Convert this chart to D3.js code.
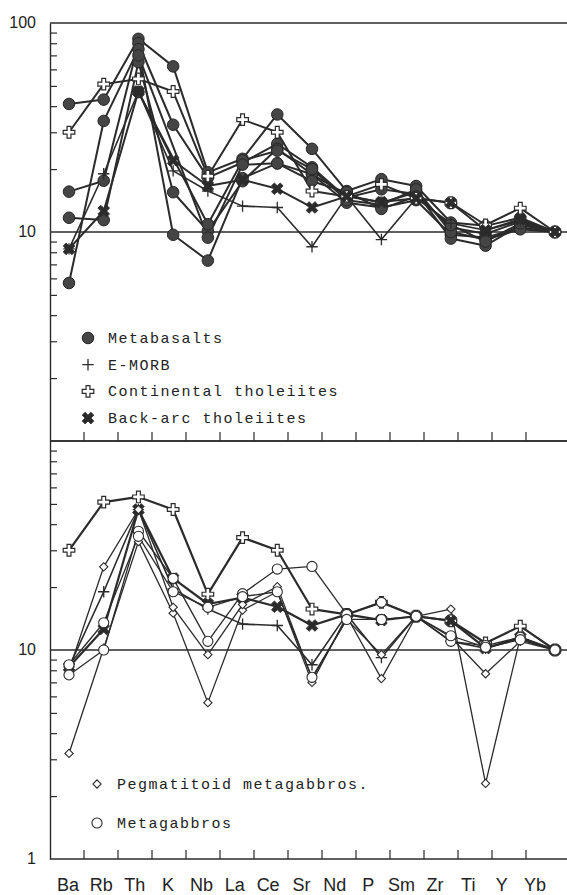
<!DOCTYPE html>
<html>
<head>
<meta charset="utf-8">
<script src="https://cdn.jsdelivr.net/npm/d3@7"></script>
<style>
  body { margin: 0; background: #fff; }
  svg { display: block; }
</style>
</head>
<body>
<div class="chart"></div>
<script>
const width = 567, height = 895;

// element order (spider diagram, normalised to Yb = 10)
const elements = ["Ba","Rb","Th","K","Nb","La","Ce","Sr","Nd","P","Sm","Zr","Ti","Y","Yb"];

// top panel samples (null = not plotted)
const metabasalts = [
  [41, 43, 84, 62, 19.3, 22.4, 36.5, 25, 15.7, 17.9, 16.6, 11.1, 10.7, 11.7, 10],
  [15.6, 17.6, 80, 32.6, 18.2, 21.5, 26.4, 20.4, 14.6, 16, 15.2, 10.5, 9.8, 11.2, 10],
  [11.7, 11.4, 65, 15.5, 10.1, 17.5, 25, 18.9, 13.8, 13.1, 14.2, 9.7, 9.4, 10.5, 10],
  [5.7, 34, 75, 9.7, 7.3, 18.1, 21.3, 18.9, 15, 13.8, 15.5, 9.3, 8.6, 10.8, 10],
  [null, null, 46.7, null, 10.9, 22, 24.5, 20, 14.2, 13.5, 16, 10, 9.2, 10.3, 10],
  [null, null, 70, null, 9.4, 21, 21.3, 17.5, 15.5, 12.9, 14.8, 10.8, 9, 11, 10]
];

// reference compositions (both panels)
const eMorb          = [8.3, 19, 47, 19.6, 15.7, 13.3, 13.1, 8.5, 14.8, 9.2, 14.5, 11, 10.2, 11.3, 10];
const contTholeiites = [30, 51, 54, 47, 18.5, 34.5, 30, 15.7, 14.8, 16.9, 14.5, 13.8, 10.8, 13, 10];
const backArc        = [8.3, 12.6, 47, 22, 16.6, 17.8, 16.1, 13.1, 14.8, 13.9, 14.5, 13.8, 10.2, 11.5, 10];

// bottom panel samples
const pegmatitoid = [
  [3.2, 10.2, 33, 15, 5.6, 15.5, 19, 7.0, 14.5, 7.3, 14.5, 15.7, 2.3, 11.5, 10],
  [8.0, 25, 47, 16, 9.5, 16.5, 20.1, 7.3, 14, 9.5, 14.5, 11.5, 7.7, 11, 10]
];
const metagabbros = [
  [7.6, 10, 37, 22, 11, 18.6, 24.4, 25.1, 14.8, 16.9, 14.5, 11, 10.5, 11.5, 10],
  [8.5, 13.5, 35, 19, 16, 18, 19, 7.4, 14, 14, 14.5, 11.7, 10.3, 11.2, 10]
];

const minorTicks = [2,3,4,5,6,7,8,9,20,30,40,50,60,70,80,90];

const topLegend = ["Metabasalts", "E-MORB", "Continental tholeiites", "Back-arc tholeiites"];
const bottomLegend = ["Pegmatitoid metagabbros.", "Metagabbros"];

const svg = d3.select(".chart").append("svg")
  .attr("width", width).attr("height", height);

const left = 50, right = width;
const ink = "#2b2b2b";

const x = d3.scalePoint().domain(elements).range([69, 555]);
const tickX = d3.scaleLinear().domain([0, 13]).range([84, 526]);
const labelX = d3.scaleLinear().domain([0, 14]).range([68, 535]);

const yTop = d3.scaleLog().domain([1, 100]).range([441, 23]);
const yBot = d3.scaleLog().domain([1, 100]).range([859, 441]);

// custom marker shapes
const thinPlus = {
  draw(ctx, size) {
    const r = Math.sqrt(size) / 2;
    ctx.moveTo(-r, 0); ctx.lineTo(r, 0);
    ctx.moveTo(0, -r); ctx.lineTo(0, r);
  }
};

const styles = {
  meta:  {shape: d3.symbolCircle, size: 105, fill: "#454545", stroke: "#262626", sw: 1, rot: 0},
  morb:  {shape: thinPlus, size: 130, fill: "none", stroke: ink, sw: 1.3, rot: 0},
  cont:  {shape: d3.symbolCross, size: 75, fill: "#fff", stroke: ink, sw: 1.2, rot: 0},
  back:  {shape: d3.symbolCross, size: 85, fill: "#2b2b2b", stroke: "#2b2b2b", sw: 0.8, rot: 45},
  peg:   {shape: d3.symbolSquare, size: 34, fill: "#fff", stroke: ink, sw: 1.1, rot: 45},
  gab:   {shape: d3.symbolCircle, size: 80, fill: "#fff", stroke: ink, sw: 1.1, rot: 0}
};

function drawFrame(y) {
  // horizontal lines at 1, 10, 100
  svg.selectAll(null)
    .data([1, 10, 100])
    .join("line")
    .attr("x1", left).attr("x2", right)
    .attr("y1", d => y(d)).attr("y2", d => y(d))
    .attr("stroke", ink).attr("stroke-width", 1.4);

  svg.append("g")
    .attr("transform", `translate(${left},0)`)
    .call(d3.axisRight(y).tickValues(minorTicks).tickSize(7).tickSizeOuter(0).tickFormat(""))
    .call(g => g.select(".domain").attr("stroke", ink).attr("stroke-width", 1.4))
    .call(g => g.selectAll(".tick line").attr("stroke", ink).attr("stroke-width", 1.2));

  // category ticks on the bottom line
  svg.selectAll(null)
    .data(d3.range(14))
    .join("line")
    .attr("x1", d => tickX(d)).attr("x2", d => tickX(d))
    .attr("y1", y(1)).attr("y2", y(1) - 9)
    .attr("stroke", ink).attr("stroke-width", 1.2);
}

function drawSeries(y, values, st, lw) {
  const pts = values.map((v, i) => [elements[i], v]).filter(p => p[1] != null);
  const line = d3.line().x(p => x(p[0])).y(p => y(p[1]));
  svg.append("path")
    .datum(pts)
    .attr("d", line)
    .attr("fill", "none")
    .attr("stroke", ink)
    .attr("stroke-width", lw)
    .attr("stroke-linejoin", "round");
  return pts;
}

function drawMarkers(y, pts, st) {
  svg.selectAll(null)
    .data(pts)
    .join("path")
    .attr("d", d3.symbol().type(st.shape).size(st.size))
    .attr("transform", p => `translate(${x(p[0])},${y(p[1])}) rotate(${st.rot})`)
    .attr("fill", st.fill)
    .attr("stroke", st.stroke)
    .attr("stroke-width", st.sw);
}

drawFrame(yTop);
drawFrame(yBot);

// top panel
const topSets = [];
metabasalts.forEach(s => topSets.push([drawSeries(yTop, s, styles.meta, 2), styles.meta]));
topSets.push([drawSeries(yTop, eMorb, styles.morb, 1.6), styles.morb]);
topSets.push([drawSeries(yTop, contTholeiites, styles.cont, 2), styles.cont]);
topSets.push([drawSeries(yTop, backArc, styles.back, 2), styles.back]);
topSets.forEach(([pts, st]) => drawMarkers(yTop, pts, st));

// bottom panel
const botSets = [];
botSets.push([drawSeries(yBot, eMorb, styles.morb, 1.6), styles.morb]);
botSets.push([drawSeries(yBot, contTholeiites, styles.cont, 2.2), styles.cont]);
botSets.push([drawSeries(yBot, backArc, styles.back, 2.2), styles.back]);
pegmatitoid.forEach(s => botSets.push([drawSeries(yBot, s, styles.peg, 1.3), styles.peg]));
metagabbros.forEach(s => botSets.push([drawSeries(yBot, s, styles.gab, 1.3), styles.gab]));
botSets.forEach(([pts, st]) => drawMarkers(yBot, pts, st));

// y labels
const yLabels = [[yTop, 100], [yTop, 10], [yBot, 10], [yBot, 1]];
svg.selectAll(null)
  .data(yLabels)
  .join("text")
  .attr("x", 36)
  .attr("y", d => d[0](d[1]) + 5)
  .attr("text-anchor", "end")
  .attr("font-family", "'Liberation Sans', Arial, sans-serif")
  .attr("font-size", 16)
  .attr("fill", "#222")
  .text(d => d[1]);

// category labels
svg.selectAll(null)
  .data(elements)
  .join("text")
  .attr("x", (d, i) => labelX(i))
  .attr("y", 891)
  .attr("text-anchor", "middle")
  .attr("font-family", "'Liberation Sans', Arial, sans-serif")
  .attr("font-size", 18)
  .attr("fill", "#222")
  .text(d => d);

// legends
function drawLegend(items, st, x0, y0, dy) {
  items.forEach((name, i) => {
    const yy = y0 + i * dy;
    svg.append("path")
      .attr("d", d3.symbol().type(st[i].shape).size(st[i].size))
      .attr("transform", `translate(${x0},${yy}) rotate(${st[i].rot})`)
      .attr("fill", st[i].fill)
      .attr("stroke", st[i].stroke)
      .attr("stroke-width", st[i].sw);
    svg.append("text")
      .attr("x", x0 + 20)
      .attr("y", yy + 5)
      .attr("font-family", "'Courier New', 'Liberation Mono', monospace")
      .attr("font-size", 15)
      .attr("letter-spacing", 1.5)
      .attr("fill", "#222")
      .text(name);
  });
}
drawLegend(topLegend, [styles.meta, styles.morb, styles.cont, styles.back], 88, 338, 26.7);
drawLegend(bottomLegend, [styles.peg, styles.gab], 97, 784, 39);
</script>
</body>
</html>
